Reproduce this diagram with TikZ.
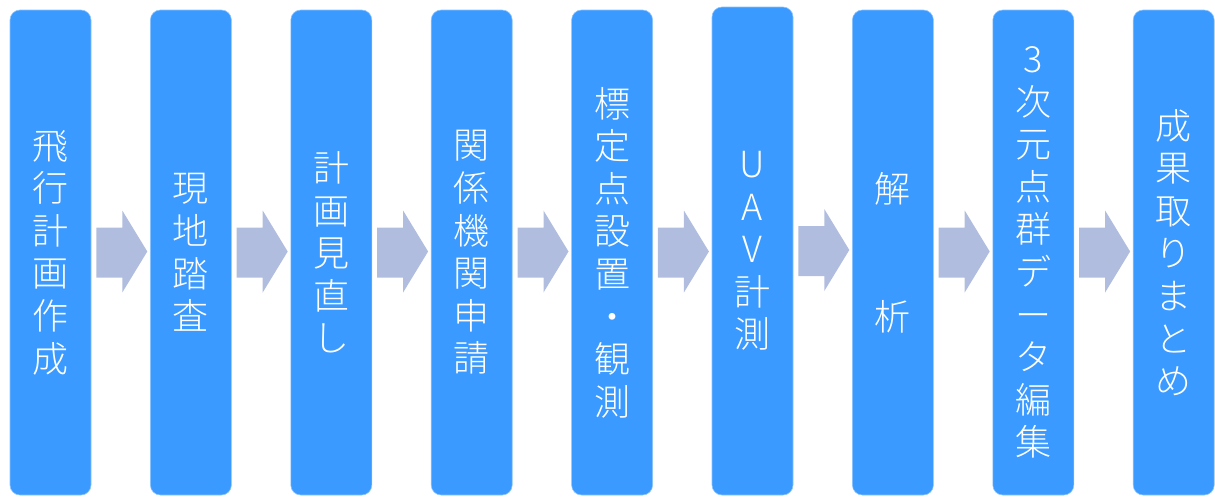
\documentclass[tikz,border=0pt]{standalone}
\usepackage{fontspec}
\newfontfamily\cjk{Noto Sans CJK JP}[UprightFont={* Light}]
\definecolor{boxblue}{HTML}{3A9AFF}
\definecolor{boxedge}{HTML}{8CC4FF}
\definecolor{arrowgray}{HTML}{B0BDDE}
\begin{document}
\begin{tikzpicture}[x=1pt,y=-1pt,
  stepbox/.style={fill=boxblue, draw=boxedge, line width=0.6pt, rounded corners=10pt,
    minimum width=81pt, minimum height=485pt, inner sep=0pt,
    text=white, align=center, font=\cjk\fontsize{36}{42.6}\selectfont},
  flowarrow/.style={fill=arrowgray, draw=none}]
\useasboundingbox (0,0) rectangle (1215,496);
\node[stepbox] (b1) at (50.5,252.5) {飛\\行\\計\\画\\作\\成};
\node[stepbox] (b2) at (190.9,252.5) {現\\地\\踏\\査};
\node[stepbox] (b3) at (331.3,252.5) {計\\画\\見\\直\\し};
\node[stepbox] (b4) at (471.7,252.5) {関\\係\\機\\関\\申\\請};
\node[stepbox] (b5) at (612.1,252.5) {標\\定\\点\\設\\置\\・\\観\\測};
\node[stepbox, minimum height=488pt] (b6) at (752.5,251) {U\\A\\V\\計\\測};
\node[stepbox] (b7) at (892.9,252.5) {解\\\mbox{}\\\mbox{}\\析};
\node[stepbox] (b8) at (1033.3,252.5) {3\\次\\元\\点\\群\\デ\\ー\\タ\\編\\集};
\node[stepbox] (b9) at (1173.7,252.5) {成\\果\\取\\り\\ま\\と\\め};
\foreach \i in {1,...,8}{
  \begin{scope}[shift={(b\i.east)}]
    \fill[flowarrow] (5,-25) -- (31,-25) -- (31,-42) -- (56,-1) -- (31,40) -- (31,25) -- (5,25) -- cycle;
  \end{scope}
}
\end{tikzpicture}
\end{document}
